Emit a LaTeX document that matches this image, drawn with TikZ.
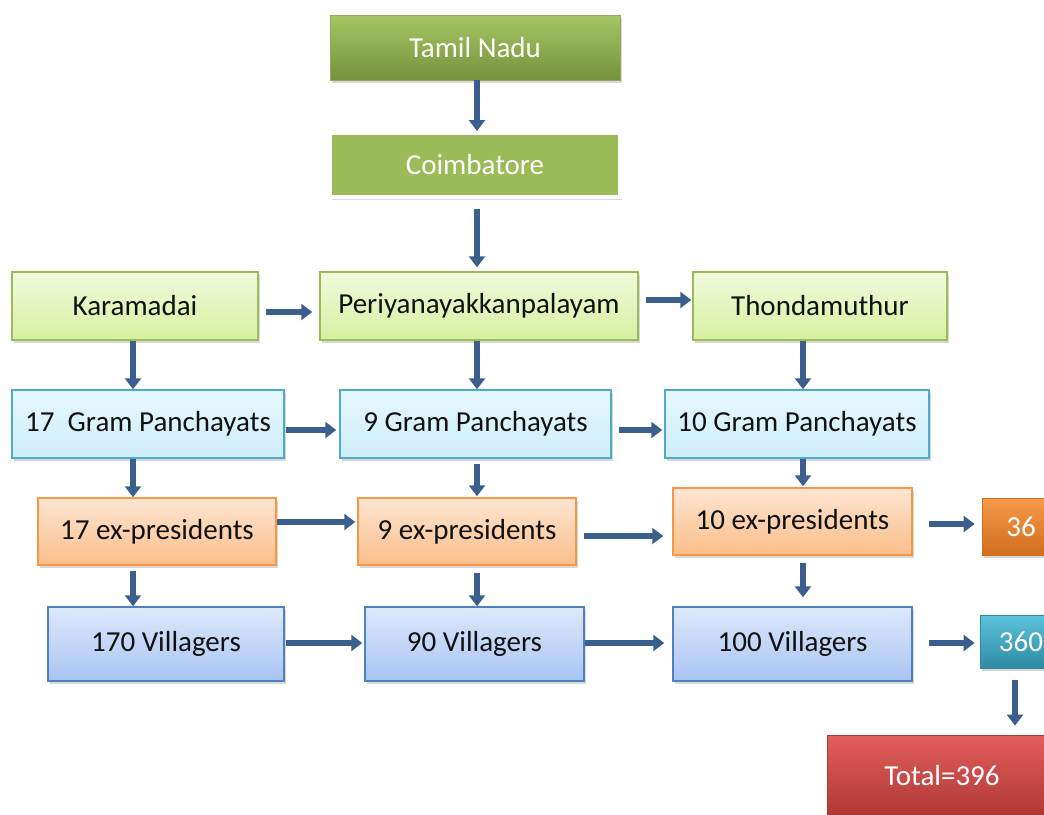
\documentclass[tikz,border=0pt]{standalone}
\usepackage{fontspec}
\setmainfont{Carlito}
\usetikzlibrary{arrows.meta,shadows}
\definecolor{arrc}{HTML}{3A5F8F}
\definecolor{gdtop}{HTML}{A5C663}
\definecolor{gdbot}{HTML}{76923C}
\definecolor{gmid}{HTML}{9BBB59}
\definecolor{lgtop}{HTML}{F2FADC}
\definecolor{lgbot}{HTML}{D6EFA0}
\definecolor{lgbd}{HTML}{9BBB59}
\definecolor{cytop}{HTML}{E6F7FD}
\definecolor{cybot}{HTML}{CDEEF9}
\definecolor{cybd}{HTML}{4BACC6}
\definecolor{ortop}{HTML}{FDE5D2}
\definecolor{orbot}{HTML}{FBBE8A}
\definecolor{orbd}{HTML}{F79646}
\definecolor{bltop}{HTML}{DEE8FB}
\definecolor{blbot}{HTML}{A8C4F3}
\definecolor{blbd}{HTML}{4F81BD}
\definecolor{o2top}{HTML}{F89A4C}
\definecolor{o2bot}{HTML}{D06E1C}
\definecolor{t2top}{HTML}{5CC3DC}
\definecolor{t2bot}{HTML}{2F8AA3}
\definecolor{r2top}{HTML}{E25E5B}
\definecolor{r2bot}{HTML}{AE3835}
\definecolor{txt}{HTML}{111111}
\tikzset{
  box/.style={rectangle, inner sep=0pt, font=\fontsize{29}{33}\selectfont, text=txt,
    drop shadow={opacity=0.3, shadow xshift=2pt, shadow yshift=-3pt}},
  dgreen/.style={box, top color=gdtop, bottom color=gdbot, draw=gdbot!80!white, line width=0.8pt, text=white},
  mgreen/.style={box, fill=gmid, draw=white, line width=4pt, text=white},
  lgreen/.style={box, top color=lgtop, bottom color=lgbot, draw=lgbd, line width=1.5pt},
  lcyan/.style={box, top color=cytop, bottom color=cybot, draw=cybd, line width=1.5pt},
  lorange/.style={box, top color=ortop, bottom color=orbot, draw=orbd, line width=1.5pt},
  lblue/.style={box, top color=bltop, bottom color=blbot, draw=blbd, line width=1.5pt},
  dorange/.style={box, top color=o2top, bottom color=o2bot, draw=o2bot, line width=0.8pt, text=white},
  dteal/.style={box, top color=t2top, bottom color=t2bot, draw=t2bot, line width=0.8pt, text=white},
  dred/.style={box, top color=r2top, bottom color=r2bot, draw=r2bot, line width=0.8pt, text=white},
  arr/.style={draw=arrc, line width=6pt, -{Triangle[length=11pt,width=16pt]}, color=arrc}
}
\begin{document}
\begin{tikzpicture}[x=1pt,y=-1pt]
\useasboundingbox[fill=white] (0,0) rectangle (1044,814);
% row 0/1
\node[dgreen, minimum width=290pt, minimum height=65pt] (tn) at (475,47.5) {Tamil Nadu};
\node[mgreen, minimum width=290pt, minimum height=64pt] (cb) at (475,165) {Coimbatore};
% row 2
\node[lgreen, minimum width=246pt, minimum height=68pt] (ka) at (135,306) {Karamadai};
\node[lgreen, minimum width=318pt, minimum height=68pt] (pe) at (479,306) {Periyanayakkanpalayam};
\node[lgreen, minimum width=254pt, minimum height=68pt] (th) at (820,306) {Thondamuthur};
% row 3
\node[lcyan, minimum width=272pt, minimum height=68pt] (g1) at (148,424) {17\ \ Gram Panchayats};
\node[lcyan, minimum width=271pt, minimum height=68pt] (g2) at (475.5,424) {9 Gram Panchayats};
\node[lcyan, minimum width=264pt, minimum height=68pt] (g3) at (797,424) {10 Gram Panchayats};
% row 4
\node[lorange, minimum width=238pt, minimum height=67pt] (e1) at (157,531.5) {17 ex-presidents};
\node[lorange, minimum width=218pt, minimum height=67pt] (e2) at (467,531.5) {9 ex-presidents};
\node[lorange, minimum width=239pt, minimum height=67pt] (e3) at (792.5,521.5) {10 ex-presidents};
\node[dorange, minimum width=78pt, minimum height=57pt] (s36) at (1021,526.5) {36};
% row 5
\node[lblue, minimum width=236pt, minimum height=74pt] (v1) at (166,644) {170 Villagers};
\node[lblue, minimum width=219pt, minimum height=74pt] (v2) at (474.5,644) {90 Villagers};
\node[lblue, minimum width=239pt, minimum height=74pt] (v3) at (792.5,644) {100 Villagers};
\node[dteal, minimum width=82pt, minimum height=53pt] (s360) at (1021,641.5) {360};
% total
\node[dred, minimum width=230pt, minimum height=82pt] (tot) at (942,776) {Total=396};
% vertical arrows
\draw[arr] ([xshift=2pt]tn.south) -- ([xshift=2pt]tn.south |- cb.north);
\draw[arr, shorten <=10pt, shorten >=4pt] ([xshift=2pt]cb.south) -- ([xshift=2pt]cb.south |- pe.north);
\draw[arr] ([xshift=-2pt]ka.south) -- ([xshift=-2pt]ka.south |- g1.north);
\draw[arr] ([xshift=-2pt]pe.south) -- ([xshift=-2pt]pe.south |- g2.north);
\draw[arr] ([xshift=-17pt]th.south) -- ([xshift=-17pt]th.south |- g3.north);
\draw[arr] ([xshift=-15pt]g1.south) -- ([xshift=-15pt]g1.south |- e1.north);
\draw[arr, shorten <=5pt, shorten >=1pt] ([xshift=1.5pt]g2.south) -- ([xshift=1.5pt]g2.south |- e2.north);
\draw[arr, shorten >=1pt] ([xshift=6pt]g3.south) -- ([xshift=6pt]g3.south |- e3.north);
\draw[arr, shorten <=5pt] ([xshift=-24pt]e1.south) -- ([xshift=-24pt]e1.south |- v1.north);
\draw[arr, shorten <=7pt] ([xshift=10pt]e2.south) -- ([xshift=10pt]e2.south |- v2.north);
\draw[arr, shorten <=7pt, shorten >=9pt] ([xshift=10.5pt]e3.south) -- ([xshift=10.5pt]e3.south |- v3.north);
\draw[arr, shorten <=12pt, shorten >=9pt] ([xshift=-6pt]s360.south) -- ([xshift=-6pt]s360.south |- tot.north);
% horizontal arrows
\draw[arr, shorten <=7pt, shorten >=7pt] ([yshift=-6pt]ka.east) -- ([yshift=-6pt]ka.east -| pe.west);
\draw[arr, shorten <=7pt, shorten >=1pt] ([yshift=6pt]pe.east) -- ([yshift=6pt]pe.east -| th.west);
\draw[arr, shorten <=1pt, shorten >=3pt] ([yshift=-6pt]g1.east) -- ([yshift=-6pt]g1.east -| g2.west);
\draw[arr, shorten <=7pt, shorten >=2pt] ([yshift=-6pt]g2.east) -- ([yshift=-6pt]g2.east -| g3.west);
\draw[arr, shorten >=2pt] ([yshift=9.5pt]e1.east) -- ([yshift=9.5pt]e1.east -| e2.west);
\draw[arr, shorten <=7pt, shorten >=9pt] ([yshift=-4.5pt]e2.east) -- ([yshift=-4.5pt]e2.east -| e3.west);
\draw[arr, shorten <=16pt, shorten >=7pt] ([yshift=-2.5pt]e3.east) -- ([yshift=-2.5pt]e3.east -| s36.west);
\draw[arr, shorten <=1pt, shorten >=2pt] ([yshift=1pt]v1.east) -- ([yshift=1pt]v1.east -| v2.west);
\draw[arr, shorten >=8pt] ([yshift=1pt]v2.east) -- ([yshift=1pt]v2.east -| v3.west);
\draw[arr, shorten <=16pt, shorten >=5pt] ([yshift=1pt]v3.east) -- ([yshift=1pt]v3.east -| s360.west);
\end{tikzpicture}
\end{document}
